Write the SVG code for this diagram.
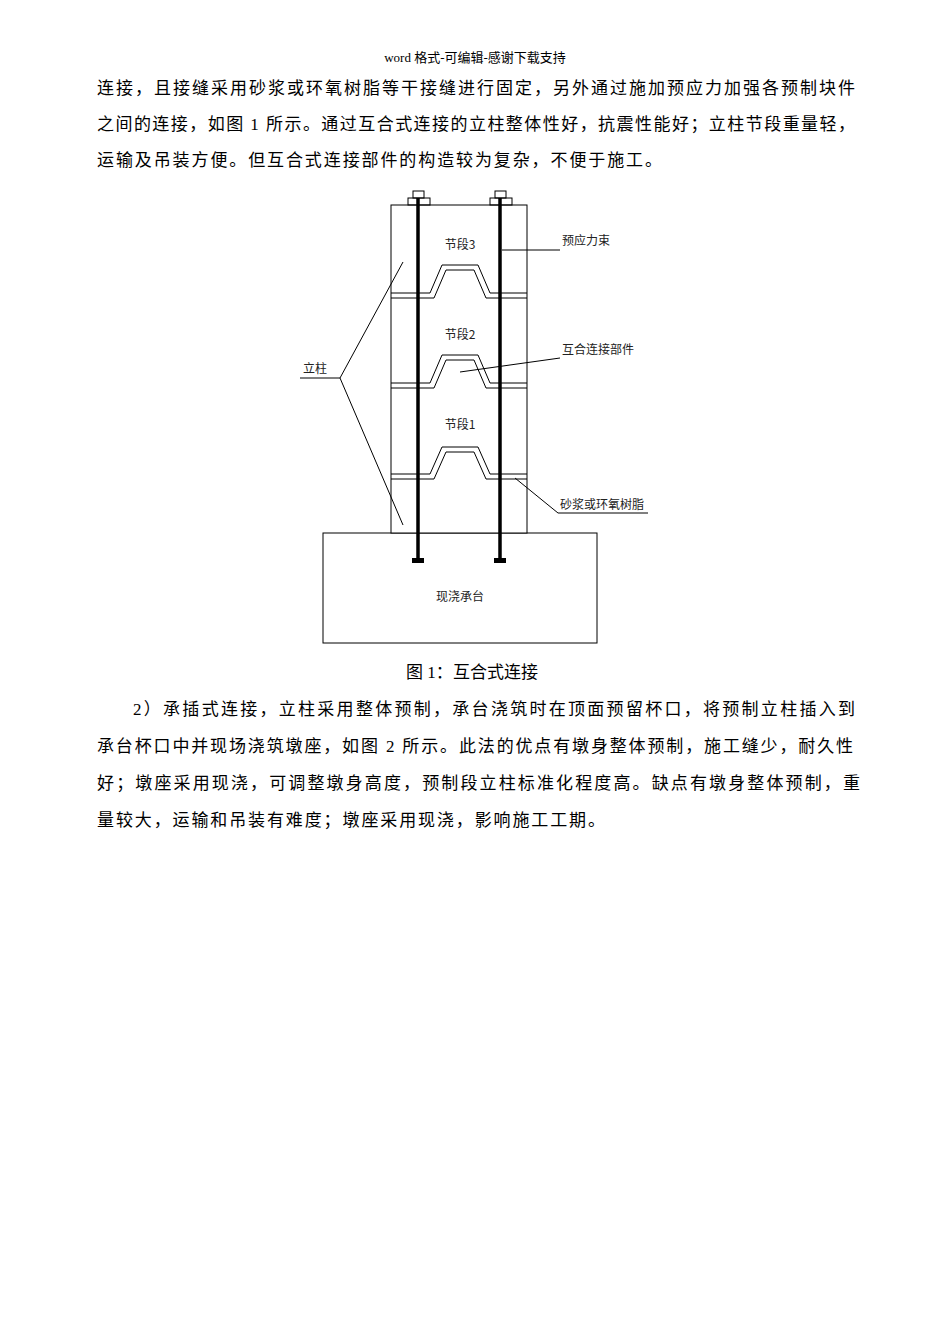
<svg xmlns="http://www.w3.org/2000/svg" width="950" height="1344" viewBox="0 0 950 1344">
<style>
.t{font-family:"Liberation Serif","Noto Sans CJK SC",serif;font-size:17px;fill:#000}
.s{font-family:"Noto Sans CJK SC",sans-serif;font-size:12px;fill:#222}
.l{fill:none;stroke:#000;stroke-width:1}
.r{stroke:#000;stroke-width:3.5}
</style>
<rect width="950" height="1344" fill="#fff"/>
<text x="475" y="62" text-anchor="middle" class="t" style="font-size:13px">word 格式-可编辑-感谢下载支持</text>
<text x="97" y="94" class="t" textLength="758" lengthAdjust="spacing">连接，且接缝采用砂浆或环氧树脂等干接缝进行固定，另外通过施加预应力加强各预制块件</text>
<text x="97" y="130" class="t" textLength="758" lengthAdjust="spacing">之间的连接，如图 1 所示。通过互合式连接的立柱整体性好，抗震性能好；立柱节段重量轻，</text>
<text x="97" y="166" class="t" textLength="565" lengthAdjust="spacing">运输及吊装方便。但互合式连接部件的构造较为复杂，不便于施工。</text>
<g id="base"><rect x="323" y="533" width="274" height="110" class="l"/></g>
<g id="column">
<rect x="391" y="205" width="136" height="328" fill="#fff" stroke="#000"/>
<path class="l" d="M391,293 H430 L442,265 H478 L490,293 H527 M391,298 H434 L446,270 H474 L486,298 H527"/>
<path class="l" d="M391,383 H430 L442,355 H478 L490,383 H527 M391,388 H434 L446,360 H474 L486,388 H527"/>
<path class="l" d="M391,474 H430 L442,447 H478 L490,474 H527 M391,479 H434 L446,452 H474 L486,479 H527"/>
</g>
<g id="bolts">
<line x1="418" y1="198" x2="418" y2="560" class="r"/>
<line x1="500" y1="198" x2="500" y2="560" class="r"/>
<rect x="413" y="191" width="11" height="7" class="l"/><rect x="408" y="198" width="22" height="7" class="l"/>
<rect x="495" y="191" width="11" height="7" class="l"/><rect x="490" y="198" width="22" height="7" class="l"/>
<rect x="412" y="558" width="12" height="5"/><rect x="494" y="558" width="12" height="5"/>
</g>
<g id="labels">
<text x="460" y="249" text-anchor="middle" class="s">节段3</text>
<text x="460" y="339" text-anchor="middle" class="s">节段2</text>
<text x="460" y="429" text-anchor="middle" class="s">节段1</text>
<text x="460" y="601" text-anchor="middle" class="s">现浇承台</text>
<text x="562" y="245" class="s">预应力束</text>
<text x="562" y="354" class="s">互合连接部件</text>
<text x="560" y="509" class="s">砂浆或环氧树脂</text>
<text x="303" y="373" class="s">立柱</text>
</g>
<g id="connectors" class="l">
<path d="M502,250 H560"/>
<path d="M460,372 L560,358"/>
<path d="M515,478 L558,513 H648"/>
<path d="M300,378 H340 L403,262 M340,378 L403,525"/>
</g>
<text x="406" y="678" class="t" textLength="132" lengthAdjust="spacing">图 1：互合式连接</text>
<text x="133" y="715" class="t" textLength="722" lengthAdjust="spacing">2）承插式连接，立柱采用整体预制，承台浇筑时在顶面预留杯口，将预制立柱插入到</text>
<text x="97" y="752" class="t" textLength="756" lengthAdjust="spacing">承台杯口中并现场浇筑墩座，如图 2 所示。此法的优点有墩身整体预制，施工缝少，耐久性</text>
<text x="97" y="789" class="t" textLength="763" lengthAdjust="spacing">好；墩座采用现浇，可调整墩身高度，预制段立柱标准化程度高。缺点有墩身整体预制，重</text>
<text x="97" y="826" class="t" textLength="508" lengthAdjust="spacing">量较大，运输和吊装有难度；墩座采用现浇，影响施工工期。</text>
</svg>
